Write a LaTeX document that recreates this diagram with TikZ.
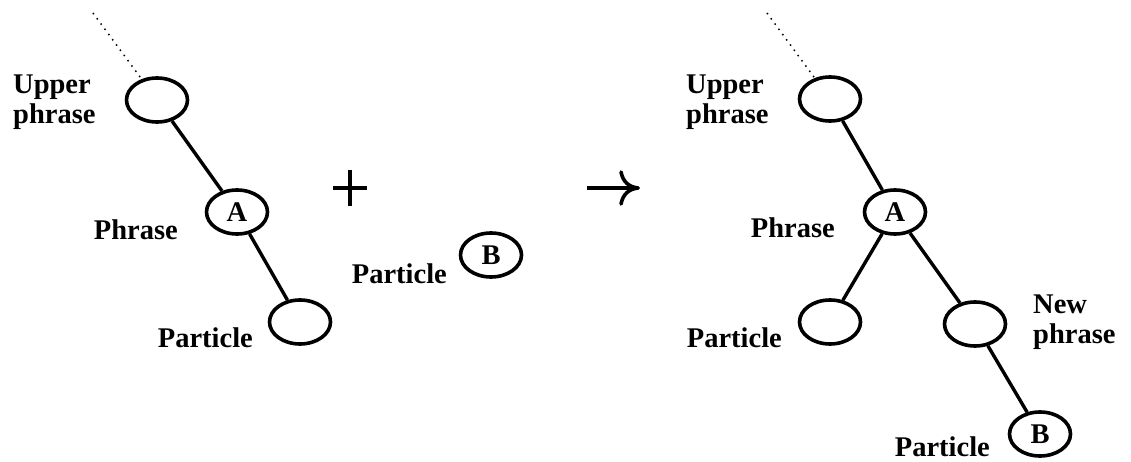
\documentclass[tikz,border=0pt]{standalone}
\usepackage{fontspec}
\setmainfont{Liberation Serif}
\usetikzlibrary{shapes.geometric}
\begin{document}
\begin{tikzpicture}[x=1pt,y=-1pt,
  font=\fontsize{28.5}{30}\selectfont\bfseries,
  nd/.style={ellipse,draw,line width=3.6pt,minimum width=61pt,minimum height=44pt,inner sep=0pt},
  edge/.style={line width=3.4pt},
  dots/.style={line width=1.5pt,dash pattern=on 1.5pt off 5pt},
  lbl/.style={inner sep=0pt},
  sym/.style={line width=3.4pt}]
\useasboundingbox (0,0) rectangle (1131,462);
% ---------- left tree ----------
\coordinate (d1) at (93,13);
\node[nd] (U1) at (157,100) {};
\node[nd] (A1) at (237,212) {A};
\node[nd] (P1) at (300,322) {};
\draw[dots] (d1) -- (U1);
\draw[edge] (U1) -- (A1);
\draw[edge] (A1) -- (P1);
\node[lbl,anchor=west,align=left] (lU1) at (13,102) {Upper\\phrase};
\node[lbl,anchor=base east] (lA1) at (178,240) {Phrase};
\node[lbl,anchor=base east] (lP1) at (253,347) {Particle};
% ---------- plus ----------
\draw[sym] (333,188) -- (367,188);
\draw[sym] (350,170) -- (350,206);
% ---------- middle particle ----------
\node[nd] (B1) at (491,255) {B};
\node[lbl,anchor=base east] (lB1) at (447,283) {Particle};
% ---------- arrow ----------
\draw[sym] (587,188) -- (636,188);
\draw[line width=3.6pt,line cap=round] (621,172) .. controls (623,182) and (629,187) .. (638,188);
\draw[line width=3.6pt,line cap=round] (621,204) .. controls (623,194) and (629,189) .. (638,188);
% ---------- right tree ----------
\coordinate (d2) at (767,13);
\node[nd] (U2) at (830,99) {};
\node[nd] (A2) at (895,212) {A};
\node[nd] (P2) at (830,322) {};
\node[nd] (N2) at (975,324) {};
\node[nd] (B2) at (1040,434) {B};
\draw[dots] (d2) -- (U2);
\draw[edge] (U2) -- (A2);
\draw[edge] (A2) -- (P2);
\draw[edge] (A2) -- (N2);
\draw[edge] (N2) -- (B2);
\node[lbl,anchor=west,align=left] (lU2) at (686,102) {Upper\\phrase};
\node[lbl,anchor=base east] (lA2) at (835,237) {Phrase};
\node[lbl,anchor=base east] (lP2) at (782,347) {Particle};
\node[lbl,anchor=west,align=left] (lN2) at (1033,322) {New\\phrase};
\node[lbl,anchor=base east] (lB2) at (990,456) {Particle};
\end{tikzpicture}
\end{document}
